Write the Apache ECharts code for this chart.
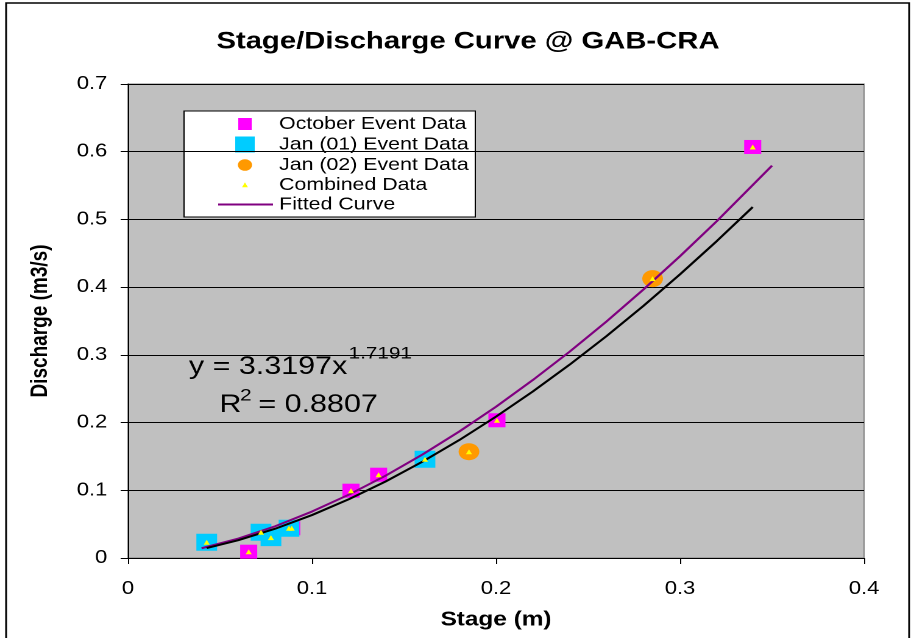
<!DOCTYPE html>
<html>
<head>
<meta charset="utf-8">
<script src="https://cdn.jsdelivr.net/npm/echarts@6/dist/echarts.min.js"></script>
<style>
  html, body { margin: 0; padding: 0; background: #fff; overflow: hidden; }
  /* The chart is laid out at 750px and widened to the 914px page, giving the wide-glyph look */
  #chart { width: 750px; height: 638px; transform: scaleX(1.21867); transform-origin: 0 0; }
</style>
</head>
<body>
<div id="chart"></div>
<script>
// ---- Data (stage in m, discharge in m3/s) ----
const octoberStage    = [0.0656, 0.0890, 0.1212, 0.1362, 0.2005, 0.3395];
const octoberFlow     = [0.0093, 0.0440, 0.0994, 0.1230, 0.2034, 0.6070];
const jan01Stage      = [0.0428, 0.0723, 0.0777, 0.0875, 0.1614];
const jan01Flow       = [0.0233, 0.0380, 0.0300, 0.0439, 0.1458];
const jan02Stage      = [0.1853, 0.2851];
const jan02Flow       = [0.1570, 0.4126];

// Fitted curve
const fittedStage     = [0.04, 0.06, 0.08, 0.10, 0.12, 0.14, 0.16, 0.18, 0.20, 0.22, 0.24, 0.26, 0.28, 0.30, 0.32, 0.35];
const fittedFlow      = [0.0144, 0.0287, 0.0469, 0.0686, 0.0935, 0.1216, 0.1527, 0.1867, 0.2234, 0.2628, 0.3047, 0.3492, 0.3962, 0.4457, 0.4975, 0.5795];

// Power trendline through the combined data: y = 3.3197x^1.7191
const trendStage      = [0.0428, 0.06, 0.08, 0.10, 0.12, 0.14, 0.16, 0.18, 0.20, 0.22, 0.24, 0.26, 0.28, 0.30, 0.32, 0.3395];
const trendFlow       = [0.0147, 0.0263, 0.0432, 0.0634, 0.0867, 0.1130, 0.1422, 0.1741, 0.2088, 0.2459, 0.2855, 0.3276, 0.3721, 0.4190, 0.4681, 0.5183];

const xTicks = [0, 0.1, 0.2, 0.3, 0.4];
const yTicks = [0, 0.1, 0.2, 0.3, 0.4, 0.5, 0.6, 0.7];

const titleText = 'Stage/Discharge Curve @ GAB-CRA';
const legendNames = ['October Event Data', 'Jan (01) Event Data', 'Jan (02) Event Data', 'Combined Data', 'Fitted Curve'];
const eqMain = 'y = 3.3197x';
const eqExp = '1.7191';
const r2Main = '= 0.8807';

// ---- Helpers ----
const FONT = '"Liberation Sans", Arial, Helvetica, sans-serif';
const pairs = (xs, ys) => xs.map((x, i) => [x, ys[i]]);
const combinedStage = [].concat(octoberStage, jan01Stage, jan02Stage);
const combinedFlow = [].concat(octoberFlow, jan01Flow, jan02Flow);

const C = { oct: '#ff00ff', jan1: '#00ccff', jan2: '#ff9900', comb: '#ffff00', fit: '#800080', trend: '#000000' };

function textWidth(str, font) {
  const cv = document.createElement('canvas').getContext('2d');
  cv.font = font;
  return cv.measureText(str).width;
}
const titleFontSize = 24;
const titleW = textWidth(titleText, 'bold ' + titleFontSize + 'px ' + FONT);
const titleCenter = 384;

const chart = echarts.init(document.getElementById('chart'), null, { renderer: 'canvas', devicePixelRatio: 2 });

// legend rows (graphic-built box)
const legX = 151, legY = 111, legW = 239, legH = 106;
const rowY = [124, 144.5, 165, 185, 204.5];
const symX = 201, txtX = 229;

const legendEls = [
  { type: 'rect', shape: { x: legX, y: legY, width: legW, height: legH }, style: { fill: '#fff', stroke: '#000', lineWidth: 1 } },
  { type: 'rect', shape: { x: symX - 5.5, y: rowY[0] - 6, width: 11, height: 12 }, style: { fill: C.oct } },
  { type: 'rect', shape: { x: symX - 8, y: rowY[1] - 8, width: 16, height: 16 }, style: { fill: C.jan1 } },
  { type: 'circle', shape: { cx: symX, cy: rowY[2], r: 5.8 }, style: { fill: C.jan2 } },
  { type: 'polygon', shape: { points: [[symX, rowY[3] - 2.6], [symX + 2.4, rowY[3] + 2.2], [symX - 2.4, rowY[3] + 2.2]] }, style: { fill: C.comb } },
  { type: 'line', shape: { x1: 179, y1: rowY[4], x2: 224, y2: rowY[4] }, style: { stroke: C.fit, lineWidth: 2 } }
];
legendNames.forEach((n, i) => {
  legendEls.push({ type: 'text', x: txtX, y: rowY[i], style: { text: n, font: '17.5px ' + FONT, fill: '#000', textVerticalAlign: 'middle' } });
});

const option = {
  animation: false,
  title: {
    text: titleText,
    left: titleCenter - titleW / 2,
    top: 30,
    padding: 0,
    textStyle: { fontFamily: FONT, fontWeight: 'bold', fontSize: titleFontSize, color: '#000' }
  },
  grid: {
    left: 105, right: 41, top: 84, bottom: 80,
    show: true, backgroundColor: '#c0c0c0', borderColor: '#808080', borderWidth: 1
  },
  xAxis: {
    type: 'value',
    min: xTicks[0], max: xTicks[xTicks.length - 1], interval: 0.1,
    axisLine: { lineStyle: { color: '#000', width: 1 } },
    axisTick: { length: 6, lineStyle: { color: '#000' } },
    axisLabel: { margin: 22, fontFamily: FONT, fontSize: 18, color: '#000' },
    splitLine: { show: false },
    name: 'Stage (m)', nameLocation: 'middle', nameGap: 52,
    nameTextStyle: { fontFamily: FONT, fontWeight: 'bold', fontSize: 20, color: '#000' }
  },
  yAxis: {
    type: 'value',
    min: yTicks[0], max: yTicks[yTicks.length - 1], interval: 0.1,
    axisLine: { show: true, lineStyle: { color: '#000', width: 1 } },
    axisTick: { show: true, length: 6, lineStyle: { color: '#000' } },
    axisLabel: { margin: 17, fontFamily: FONT, fontSize: 18, color: '#000' },
    splitLine: { show: true, lineStyle: { color: '#000', width: 1 } },
    name: 'Discharge (m3/s)', nameLocation: 'middle', nameGap: 62,
    nameTextStyle: { fontFamily: FONT, fontWeight: 'bold', fontSize: 19, color: '#000' }
  },
  series: [
    { name: legendNames[0], type: 'scatter', symbol: 'rect', symbolSize: 14, data: pairs(octoberStage, octoberFlow), itemStyle: { color: C.oct, opacity: 1 }, z: 2 },
    { name: legendNames[1], type: 'scatter', symbol: 'rect', symbolSize: 17, data: pairs(jan01Stage, jan01Flow), itemStyle: { color: C.jan1, opacity: 1 }, z: 2 },
    { name: legendNames[2], type: 'scatter', symbol: 'circle', symbolSize: 17, data: pairs(jan02Stage, jan02Flow), itemStyle: { color: C.jan2, opacity: 1 }, z: 2 },
    { name: legendNames[4], type: 'line', data: pairs(fittedStage, fittedFlow), showSymbol: false, symbol: 'none', lineStyle: { color: C.fit, width: 2 }, z: 3 },
    { name: 'Power trendline', type: 'line', data: pairs(trendStage, trendFlow), showSymbol: false, symbol: 'none', lineStyle: { color: C.trend, width: 2 }, z: 4 },
    { name: legendNames[3], type: 'scatter', symbol: 'triangle', symbolSize: 5, data: pairs(combinedStage, combinedFlow), itemStyle: { color: C.comb, opacity: 1 }, z: 5 }
  ],
  graphic: [
    { type: 'group', z: 100, children: legendEls },
    { type: 'text', z: 100, x: 155, y: 367, style: { text: eqMain, font: '25px ' + FONT, fill: '#000', textVerticalAlign: 'middle' } },
    { type: 'text', z: 100, x: 286, y: 354, style: { text: eqExp, font: '17px ' + FONT, fill: '#000', textVerticalAlign: 'middle' } },
    { type: 'text', z: 100, x: 180, y: 405, style: { text: 'R', font: '25px ' + FONT, fill: '#000', textVerticalAlign: 'middle' } },
    { type: 'text', z: 100, x: 197, y: 396, style: { text: '2', font: '17px ' + FONT, fill: '#000', textVerticalAlign: 'middle' } },
    { type: 'text', z: 100, x: 212, y: 405, style: { text: r2Main, font: '25px ' + FONT, fill: '#000', textVerticalAlign: 'middle' } },
    { type: 'rect', z: 100, shape: { x: 5, y: 3, width: 741, height: 680 }, style: { fill: 'none', stroke: '#000', lineWidth: 1.5 } }
  ]
};
chart.setOption(option);
</script>
</body>
</html>
